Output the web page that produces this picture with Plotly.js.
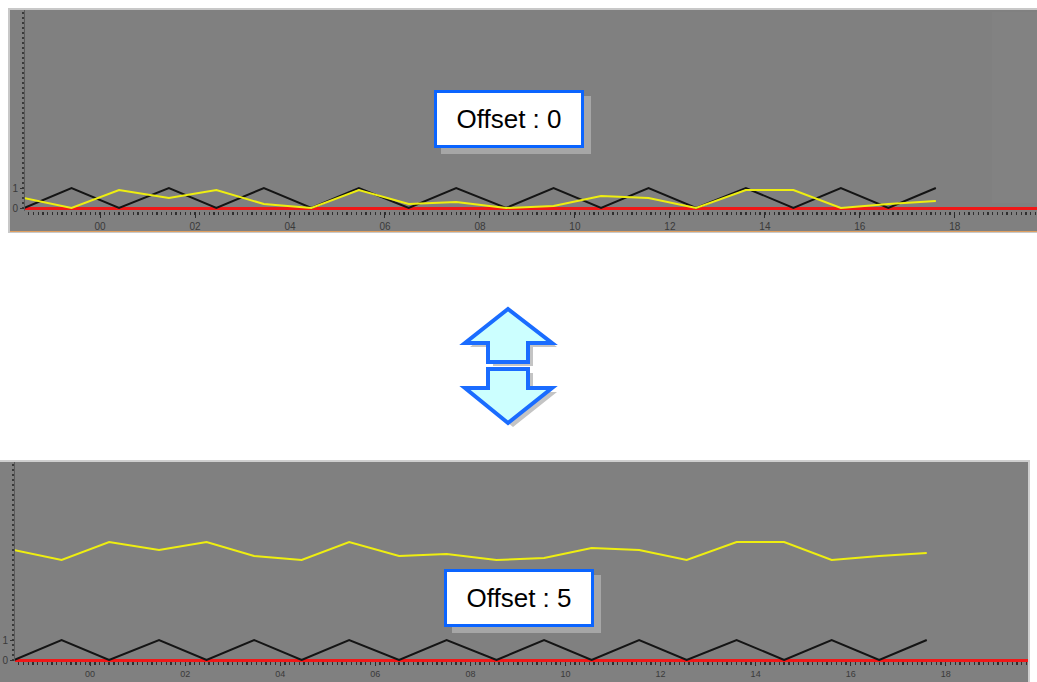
<!DOCTYPE html>
<html>
<head>
<meta charset="utf-8">
<script src="https://cdn.plot.ly/plotly-3.0.1.min.js"></script>
<style>
  html, body { margin: 0; padding: 0; background: #fff; }
  #chart { width: 1037px; height: 682px; }
</style>
</head>
<body>
<div id="chart"></div>
<script>
// sample times (units of the 00..18 labels)
const times = [-1.6, -0.6, 0.4, 1.45, 2.45, 3.45, 4.45, 5.45, 6.5, 7.5,
               8.55, 9.55, 10.55, 11.55, 12.55, 13.6, 14.6, 15.6, 16.6, 17.6];
// black square-ish signal (0/1)
const blackSignal = [0, 1, 0, 1, 0, 1, 0, 1, 0, 1, 0, 1, 0, 1, 0, 1, 0, 1, 0, 1];
// yellow signal without offset
const yellowSignal = [0.5, 0, 0.9, 0.5, 0.9, 0.2, 0, 0.9, 0.2, 0.3,
                      0, 0.1, 0.6, 0.5, 0, 0.9, 0.9, 0, 0.2, 0.35];
const offsets = [0, 5];
const panelLabels = ['Offset : 0', 'Offset : 5'];
const xTickVals = [0, 2, 4, 6, 8, 10, 12, 14, 16, 18];
const xTickText = ['00', '02', '04', '06', '08', '10', '12', '14', '16', '18'];
const yTickVals = [0, 1];
const yTickText = ['0', '1'];

const W = 1037, H = 682;
const px = x => x / W;
const py = y => 1 - y / H;

const tickFont = { family: 'Arial, Liberation Sans, sans-serif', size: 10, color: '#3a3a3a' };

function xAxis(dom, len, fontSize) {
  return {
    domain: dom, range: [-1.58, 19.73], showgrid: false, zeroline: false,
    showline: false, ticks: 'outside', ticklen: len, tickcolor: '#2a2a2a', tickwidth: 1,
    tickmode: 'array', tickvals: xTickVals, ticktext: xTickText,
    tickfont: Object.assign({}, tickFont, { size: fontSize }),
    minor: { tickmode: 'linear', tick0: 0, dtick: 0.1, ticks: 'outside', ticklen: 3, tickwidth: 1.3, tickcolor: '#2e2e2e', showgrid: false },
    fixedrange: true
  };
}
function yAxis(dom, anchor, ymin) {
  return {
    domain: dom, anchor: anchor, range: [ymin, 9.9], showgrid: false,
    zeroline: true, zerolinecolor: '#f01818', zerolinewidth: 3,
    showline: true, linecolor: '#5a5a5a', linewidth: 1,
    ticks: 'outside', ticklen: 4, tickcolor: '#333',
    tickmode: 'array', tickvals: yTickVals, ticktext: yTickText, tickfont: tickFont,
    minor: { tickmode: 'linear', tick0: 0, dtick: 0.25, ticks: 'outside', ticklen: 2, tickwidth: 1.3, tickcolor: '#3a3a3a', showgrid: false },
    fixedrange: true
  };
}

const traces = [];
offsets.forEach((off, i) => {
  const xa = i === 0 ? 'x' : 'x2';
  const ya = i === 0 ? 'y' : 'y2';
  traces.push({
    x: times, y: blackSignal, xaxis: xa, yaxis: ya, type: 'scatter', mode: 'lines',
    line: { color: '#141414', width: 2 }, hoverinfo: 'skip'
  });
  traces.push({
    x: times, y: yellowSignal.map(v => v + off), xaxis: xa, yaxis: ya, type: 'scatter', mode: 'lines',
    line: { color: '#eeee10', width: 2 }, hoverinfo: 'skip'
  });
});

function poly(points, dx, dy) {
  return 'M ' + points.map(p => px(p[0] + dx) + ',' + py(p[1] + dy)).join(' L ') + ' Z';
}
const upArrow = [[508, 309], [552, 343], [528, 343], [528, 362], [488, 362], [488, 343], [465, 343]];
const downArrow = [[488, 369], [528, 369], [528, 388], [552, 388], [508, 423], [465, 388], [488, 388]];

const shapes = [
  // gray panels
  { type: 'rect', xref: 'paper', yref: 'paper', x0: px(8), x1: px(1037), y0: py(233), y1: py(8), fillcolor: '#c8c8c8', line: { width: 0 }, layer: 'below' },
  { type: 'rect', xref: 'paper', yref: 'paper', x0: px(10), x1: px(1037), y0: py(231), y1: py(10), fillcolor: '#808080', line: { width: 0 }, layer: 'below' },
  { type: 'rect', xref: 'paper', yref: 'paper', x0: px(992), x1: px(1037), y0: py(203), y1: py(12), fillcolor: '#828282', line: { width: 0 }, layer: 'below' },
  { type: 'line', xref: 'paper', yref: 'paper', x0: px(10), x1: px(1037), y0: py(231.5), y1: py(231.5), line: { color: '#e0a060', width: 1 }, layer: 'below' },
  { type: 'rect', xref: 'paper', yref: 'paper', x0: px(0), x1: px(1030), y0: py(682), y1: py(460), fillcolor: '#cfcfcf', line: { width: 0 }, layer: 'below' },
  { type: 'rect', xref: 'paper', yref: 'paper', x0: px(0), x1: px(1028), y0: py(682), y1: py(462), fillcolor: '#808080', line: { width: 0 }, layer: 'below' },
  // label box shadows
  { type: 'rect', xref: 'paper', yref: 'paper', x0: px(441), x1: px(591), y0: py(154), y1: py(96), fillcolor: '#a6a6a6', line: { width: 0 }, layer: 'above' },
  { type: 'rect', xref: 'paper', yref: 'paper', x0: px(452), x1: px(601), y0: py(633), y1: py(575), fillcolor: '#a6a6a6', line: { width: 0 }, layer: 'above' },
  // double arrow with shadow
  { type: 'path', xref: 'paper', yref: 'paper', path: poly(upArrow, 5, 4), fillcolor: '#c4c4c4', line: { width: 0 }, layer: 'above' },
  { type: 'path', xref: 'paper', yref: 'paper', path: poly(downArrow, 5, 4), fillcolor: '#c4c4c4', line: { width: 0 }, layer: 'above' },
  { type: 'path', xref: 'paper', yref: 'paper', path: poly(upArrow, 0, 0), fillcolor: '#ccffff', line: { color: '#1a6cff', width: 4 }, layer: 'above' },
  { type: 'path', xref: 'paper', yref: 'paper', path: poly(downArrow, 0, 0), fillcolor: '#ccffff', line: { color: '#1a6cff', width: 4 }, layer: 'above' }
];

const labelCenters = [[508.5, 119], [519, 598]];
const annotations = panelLabels.map((t, i) => ({
  xref: 'paper', yref: 'paper', x: px(labelCenters[i][0]), y: py(labelCenters[i][1]),
  xanchor: 'center', yanchor: 'middle', text: t, showarrow: false,
  font: { family: 'Arial, Liberation Sans, sans-serif', size: 26, color: '#000' },
  bgcolor: '#ffffff', bordercolor: '#0a64ff', borderwidth: 3, borderpad: 2,
  width: 140, height: 48
}));

const layout = {
  width: W, height: H, autosize: false,
  margin: { l: 0, r: 0, t: 0, b: 0, pad: 0 },
  paper_bgcolor: '#ffffff', plot_bgcolor: 'rgba(0,0,0,0)',
  showlegend: false,
  xaxis: Object.assign(xAxis([px(25), 1], 6, 10), { anchor: 'y' }),
  yaxis: yAxis([py(211), py(10)], 'x', -0.15),
  xaxis2: Object.assign(xAxis([px(15), px(1028)], 4, 9), { anchor: 'y2' }),
  yaxis2: yAxis([py(661), py(462)], 'x2', -0.05),
  shapes: shapes,
  annotations: annotations
};

Plotly.newPlot('chart', traces, layout, { displayModeBar: false, staticPlot: true });
</script>
</body>
</html>
